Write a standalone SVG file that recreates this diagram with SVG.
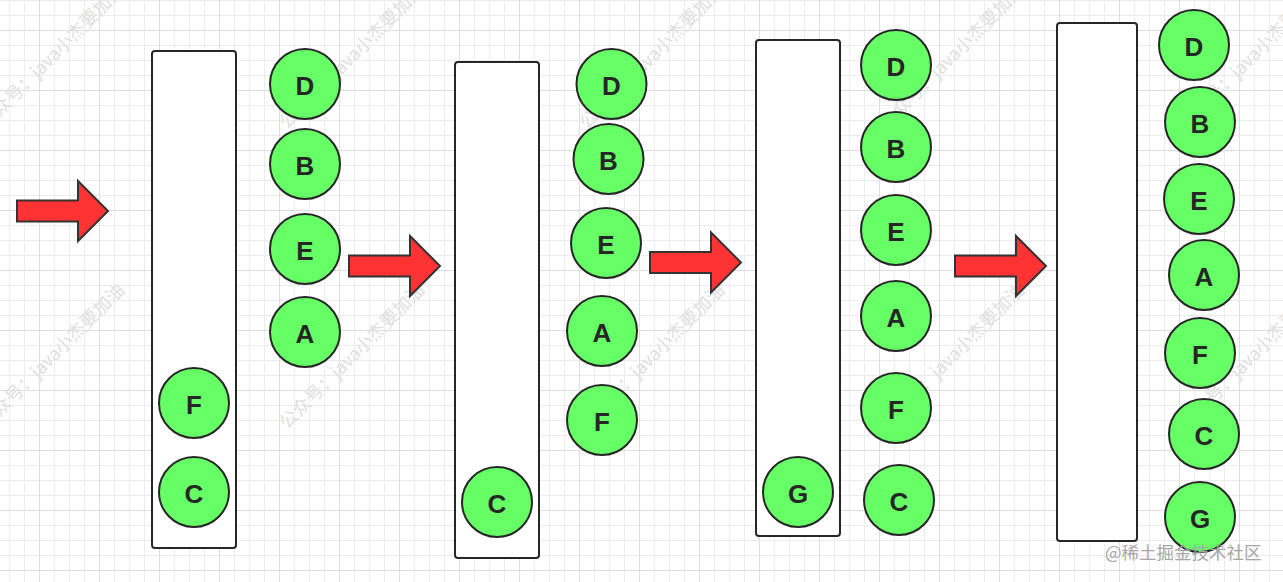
<svg xmlns="http://www.w3.org/2000/svg" width="1283" height="582" viewBox="0 0 1283 582">
<style>
.box rect{fill:#ffffff;stroke:#262626;stroke-width:2}
.node circle{fill:#66ff66;stroke:#262626;stroke-width:2}
.node text{font-family:"Liberation Sans",Arial,sans-serif;font-weight:bold;font-size:26px;fill:#262626;text-anchor:middle}
.arrow{fill:#ff3333;stroke:#333333;stroke-width:2;stroke-linejoin:miter}
.wm{font-family:"Noto Sans CJK SC","Noto Sans",sans-serif;font-size:18px;fill:#e0e0e0}
.credit{font-family:"Noto Sans CJK SC","Noto Sans",sans-serif;font-size:17.5px;fill:#a6a6a6}
</style>
<defs>
<pattern id="grid" width="60" height="60" patternUnits="userSpaceOnUse" x="39" y="30">
<path d="M15.5 0V60M30.5 0V60M45.5 0V60M0 15.5H60M0 30.5H60M0 45.5H60" stroke="#ececec" stroke-width="1" fill="none"/>
<path d="M0.5 0V60M0 0.5H60" stroke="#dedede" stroke-width="1" fill="none"/>
</pattern>
<path id="arr" d="M0 -10.5H61V-30L91 0L61 30V10.5H0Z"/>
</defs>
<rect width="1283" height="582" fill="#ffffff"/>
<rect width="1283" height="582" fill="url(#grid)"/>
<g id="watermarks">
<text class="wm" transform="translate(-13,130) rotate(-45)">公众号：java小杰要加油</text>
<text class="wm" transform="translate(287,130) rotate(-45)">公众号：java小杰要加油</text>
<text class="wm" transform="translate(587,130) rotate(-45)">公众号：java小杰要加油</text>
<text class="wm" transform="translate(887,130) rotate(-45)">公众号：java小杰要加油</text>
<text class="wm" transform="translate(1187,130) rotate(-45)">公众号：java小杰要加油</text>
<text class="wm" transform="translate(-13,430) rotate(-45)">公众号：java小杰要加油</text>
<text class="wm" transform="translate(287,430) rotate(-45)">公众号：java小杰要加油</text>
<text class="wm" transform="translate(587,430) rotate(-45)">公众号：java小杰要加油</text>
<text class="wm" transform="translate(887,430) rotate(-45)">公众号：java小杰要加油</text>
<text class="wm" transform="translate(1187,430) rotate(-45)">公众号：java小杰要加油</text>
</g>
<g id="connectors">
<use href="#arr" class="arrow" transform="translate(17,211)"/>
<use href="#arr" class="arrow" transform="translate(349,266)"/>
<use href="#arr" class="arrow" transform="translate(650,262.5)"/>
<use href="#arr" class="arrow" transform="translate(955,266)"/>
</g>
<g id="box1" class="box"><rect x="152" y="51" width="84" height="497" rx="3"/></g>
<g id="box2" class="box"><rect x="455" y="62" width="84" height="496" rx="3"/></g>
<g id="box3" class="box"><rect x="756" y="40" width="84" height="496" rx="3"/></g>
<g id="box4" class="box"><rect x="1057" y="23" width="80" height="518" rx="3"/></g>
<g id="s1-D" class="node"><circle cx="305" cy="84" r="35"/><text x="305" y="95">D</text></g>
<g id="s1-B" class="node"><circle cx="305" cy="164" r="35"/><text x="305" y="175">B</text></g>
<g id="s1-E" class="node"><circle cx="305" cy="249" r="35"/><text x="305" y="260">E</text></g>
<g id="s1-A" class="node"><circle cx="305" cy="332" r="35"/><text x="305" y="343">A</text></g>
<g id="s1-F" class="node"><circle cx="194" cy="403" r="35"/><text x="194" y="414">F</text></g>
<g id="s1-C" class="node"><circle cx="194" cy="492" r="35"/><text x="194" y="503">C</text></g>
<g id="s2-D" class="node"><circle cx="611.5" cy="84" r="35"/><text x="611.5" y="95">D</text></g>
<g id="s2-B" class="node"><circle cx="608.5" cy="159" r="35"/><text x="608.5" y="170">B</text></g>
<g id="s2-E" class="node"><circle cx="606" cy="243" r="35"/><text x="606" y="254">E</text></g>
<g id="s2-A" class="node"><circle cx="602" cy="331" r="35"/><text x="602" y="342">A</text></g>
<g id="s2-F" class="node"><circle cx="602" cy="420" r="35"/><text x="602" y="431">F</text></g>
<g id="s2-C" class="node"><circle cx="497" cy="502" r="35"/><text x="497" y="513">C</text></g>
<g id="s3-D" class="node"><circle cx="896" cy="65" r="35"/><text x="896" y="76">D</text></g>
<g id="s3-B" class="node"><circle cx="896" cy="147" r="35"/><text x="896" y="158">B</text></g>
<g id="s3-E" class="node"><circle cx="896" cy="230" r="35"/><text x="896" y="241">E</text></g>
<g id="s3-A" class="node"><circle cx="896" cy="316" r="35"/><text x="896" y="327">A</text></g>
<g id="s3-F" class="node"><circle cx="896" cy="408" r="35"/><text x="896" y="419">F</text></g>
<g id="s3-C" class="node"><circle cx="899" cy="500" r="35"/><text x="899" y="511">C</text></g>
<g id="s3-G" class="node"><circle cx="798" cy="492" r="35"/><text x="798" y="503">G</text></g>
<g id="s4-D" class="node"><circle cx="1194" cy="45" r="35"/><text x="1194" y="56">D</text></g>
<g id="s4-B" class="node"><circle cx="1200" cy="122" r="35"/><text x="1200" y="133">B</text></g>
<g id="s4-E" class="node"><circle cx="1199" cy="199" r="35"/><text x="1199" y="210">E</text></g>
<g id="s4-A" class="node"><circle cx="1204" cy="275" r="35"/><text x="1204" y="286">A</text></g>
<g id="s4-F" class="node"><circle cx="1200" cy="353" r="35"/><text x="1200" y="364">F</text></g>
<g id="s4-C" class="node"><circle cx="1204" cy="434" r="35"/><text x="1204" y="445">C</text></g>
<g id="s4-G" class="node"><circle cx="1200" cy="517" r="35"/><text x="1200" y="528">G</text></g>
<text class="credit" x="1105" y="559">@稀土掘金技术社区</text>
</svg>
